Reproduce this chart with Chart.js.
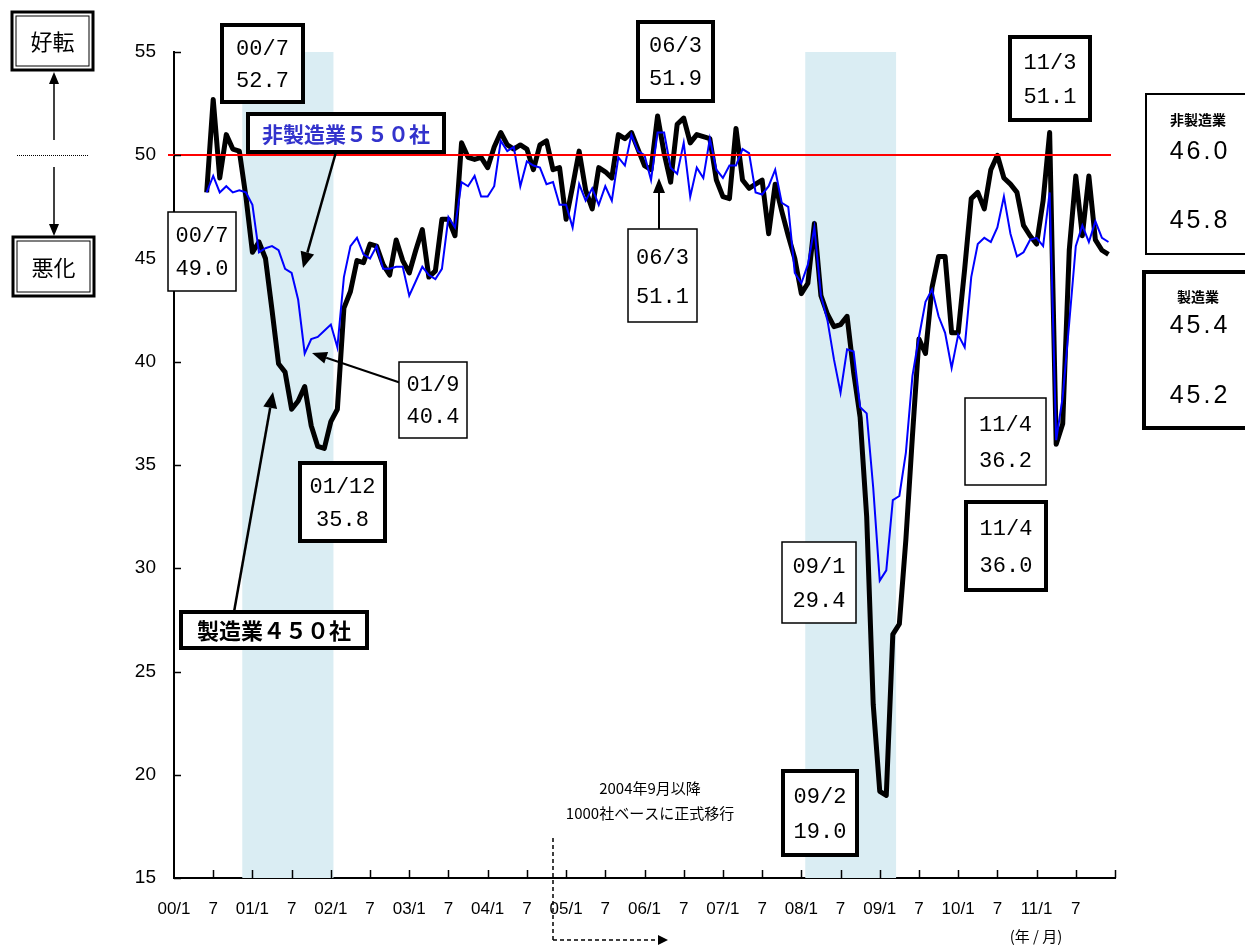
<!DOCTYPE html>
<html>
<head>
<meta charset="utf-8">
<script src="https://cdn.jsdelivr.net/npm/chart.js@4.4.1/dist/chart.umd.min.js"></script>
<style>
  html, body { margin: 0; padding: 0; background: #fff; overflow: hidden; }
  canvas { display: block; }
</style>
</head>
<body>
<canvas id="c" width="1245" height="946"></canvas>
<script>
// Months are counted from 2000/1 (= 0); both series start in 2000/6.
const FIRST_MONTH = 5;

// 製造業 (manufacturing) diffusion index, 2000/6 - 2011/12
const manufacturing = [
  48.2, 52.7, 48.9, 51.0, 50.3, 50.2, 48.0, 45.3, 45.8, 45.0,
  42.5, 39.9, 39.5, 37.7, 38.1, 38.8, 36.9, 35.9, 35.8, 37.1,
  37.7, 42.6, 43.4, 44.9, 44.8, 45.7, 45.6, 44.7, 44.2, 45.9,
  44.9, 44.3, 45.4, 46.4, 44.1, 44.4, 46.9, 46.9, 46.1, 50.6,
  49.9, 49.8, 49.9, 49.4, 50.4, 51.1, 50.5, 50.3, 50.5, 50.3,
  49.3, 50.5, 50.7, 49.3, 49.4, 46.9, 48.5, 50.2, 48.3, 47.4,
  49.4, 49.2, 48.9, 51.0, 50.8, 51.1, 50.3, 49.5, 49.3, 51.9,
  50.1, 48.7, 51.5, 51.8, 50.6, 51.0, 50.9, 50.8, 48.8, 48.0,
  47.9, 51.3, 48.8, 48.4, 48.6, 48.8, 46.2, 48.6, 47.3, 46.1,
  45.0, 43.3, 43.8, 46.7, 43.2, 42.3, 41.7, 41.8, 42.2, 39.5,
  37.3, 32.5, 23.4, 19.2, 19.0, 26.8, 27.3, 31.4, 36.4, 41.1,
  40.4, 43.6, 45.1, 45.1, 41.4, 41.4, 44.5, 47.9, 48.2, 47.4,
  49.3, 50.0, 48.9, 48.6, 48.2, 46.6, 46.1, 45.7, 47.8, 51.1,
  36.0, 37.0, 45.4, 49.0, 46.1, 49.0, 45.9, 45.4, 45.2
];

// 非製造業 (non-manufacturing) diffusion index, 2000/6 - 2011/12
const nonManufacturing = [
  48.2, 49.0, 48.2, 48.5, 48.2, 48.3, 48.2, 47.6, 45.3, 45.5,
  45.6, 45.4, 44.5, 44.3, 43.0, 40.4, 41.1, 41.2, 41.5, 41.8,
  40.7, 44.1, 45.6, 46.0, 45.2, 45.0, 45.6, 44.5, 44.5, 44.6,
  44.6, 43.2, 43.9, 44.6, 44.2, 44.0, 44.5, 47.0, 46.5, 48.7,
  48.5, 49.0, 48.0, 48.0, 48.5, 50.7, 50.2, 50.4, 48.5, 49.7,
  49.5, 49.4, 48.6, 48.7, 47.6, 47.6, 46.5, 48.6, 47.8, 48.4,
  47.6, 48.5, 47.8, 49.9, 49.5, 51.0, 50.2, 50.0, 48.8, 51.1,
  51.1, 49.4, 49.1, 50.6, 48.0, 49.4, 48.9, 50.8, 49.3, 48.9,
  49.5, 49.5, 50.3, 50.1, 48.2, 48.1, 48.5, 49.3, 47.7, 47.5,
  44.3, 43.8, 44.7, 46.5, 43.2, 42.0, 40.1, 38.5, 40.6, 40.5,
  37.8, 37.5, 33.9, 29.4, 29.9, 33.3, 33.5, 35.6, 39.3, 41.2,
  42.9, 43.5, 42.2, 41.4, 39.7, 41.3, 40.7, 44.1, 45.7, 46.0,
  45.8, 46.5, 48.0, 46.2, 45.1, 45.3, 45.9, 46.0, 45.6, 48.2,
  36.2, 38.3, 41.9, 45.6, 46.6, 45.8, 46.8, 46.0, 45.8
];

// x-axis labels, one every six months from 2000/1 to 2012/1
const tickLabels = [
  '00/1', '7', '01/1', '7', '02/1', '7', '03/1', '7', '04/1', '7', '05/1', '7',
  '06/1', '7', '07/1', '7', '08/1', '7', '09/1', '7', '10/1', '7', '11/1', '7', ''
];
const yTicks = [15, 20, 25, 30, 35, 40, 45, 50, 55];

// recession periods (in month index units)
const recessions = [[10.45, 24.4], [96.6, 110.5]];
const THRESHOLD = 50;

const toPoints = arr => arr.map((v, k) => ({ x: FIRST_MONTH + k, y: v }));
const valueAt = (arr, month) => arr[month - FIRST_MONTH];
const fmt = v => v.toFixed(1);

// ---------- drawing helpers ----------
function rectBox(ctx, l, t, r, b, lw) {
  ctx.save();
  ctx.fillStyle = '#fff';
  ctx.fillRect(l, t, r - l, b - t);
  ctx.lineWidth = lw;
  ctx.strokeStyle = '#000';
  ctx.strokeRect(l, t, r - l, b - t);
  ctx.restore();
}
function text(ctx, str, x, y, font, color, align, spacing) {
  ctx.save();
  ctx.font = font;
  ctx.fillStyle = color || '#000';
  ctx.textAlign = align || 'center';
  ctx.textBaseline = 'middle';
  if (spacing) ctx.letterSpacing = spacing;
  ctx.fillText(str, x, y);
  ctx.restore();
}
function arrow(ctx, x1, y1, x2, y2, opts) {
  const o = Object.assign({ lw: 2, head: 13, width: 6, dash: null }, opts || {});
  const ang = Math.atan2(y2 - y1, x2 - x1);
  const bx = x2 - Math.cos(ang) * o.head, by = y2 - Math.sin(ang) * o.head;
  ctx.save();
  ctx.strokeStyle = '#000';
  ctx.fillStyle = '#000';
  ctx.lineWidth = o.lw;
  if (o.dash) ctx.setLineDash(o.dash);
  ctx.beginPath();
  ctx.moveTo(x1, y1);
  ctx.lineTo(bx, by);
  ctx.stroke();
  ctx.setLineDash([]);
  ctx.beginPath();
  ctx.moveTo(x2, y2);
  ctx.lineTo(bx + Math.sin(ang) * o.width, by - Math.cos(ang) * o.width);
  ctx.lineTo(bx - Math.sin(ang) * o.width, by + Math.cos(ang) * o.width);
  ctx.closePath();
  ctx.fill();
  ctx.restore();
}

const NUM_FONT = '22px "Liberation Mono", "DejaVu Sans Mono", monospace';
const JP = '"Noto Sans CJK JP", "Noto Sans CJK SC", sans-serif';

// value call-outs: [series, month, box l, t, r, b, thick]
const callouts = [
  ['m', 6, 222, 25, 303, 102, true],
  ['n', 6, 168, 212, 236, 291, false],
  ['n', 20, 399, 362, 467, 438, false],
  ['m', 23, 300, 463, 385, 541, true],
  ['m', 74, 638, 22, 713, 101, true],
  ['n', 74, 628, 229, 697, 322, false],
  ['m', 134, 1010, 37, 1090, 120, true],
  ['n', 135, 965, 398, 1046, 485, false],
  ['m', 135, 966, 502, 1046, 590, true],
  ['n', 108, 782, 542, 856, 623, false],
  ['m', 109, 783, 771, 857, 855, true]
];
const monthLabel = m => String(Math.floor(m / 12)).padStart(2, '0') + '/' + (m % 12 + 1);

const backdrop = {
  id: 'backdrop',
  beforeDatasetsDraw(chart) {
    const { ctx, chartArea: a, scales: { x } } = chart;
    ctx.save();
    ctx.fillStyle = '#daedf3';
    recessions.forEach(([s, e]) => {
      const l = x.getPixelForValue(s), r = x.getPixelForValue(e);
      ctx.fillRect(l, a.top, r - l, a.bottom - a.top);
    });
    ctx.restore();
  },
  afterDatasetsDraw(chart) {
    const { ctx, chartArea: a, scales: { x, y } } = chart;
    // 50 line
    const y50 = Math.round(y.getPixelForValue(THRESHOLD));
    ctx.save();
    ctx.strokeStyle = '#ff0000';
    ctx.lineWidth = 2;
    ctx.beginPath();
    ctx.moveTo(a.left - 6, y50);
    ctx.lineTo(a.right - 4, y50);
    ctx.stroke();
    // inward tick marks
    ctx.strokeStyle = '#000';
    ctx.lineWidth = 1.5;
    ctx.beginPath();
    for (let m = 6; m <= 144; m += 6) {
      const px = Math.round(x.getPixelForValue(m)) + 0.5;
      ctx.moveTo(px, a.bottom);
      ctx.lineTo(px, a.bottom - 8);
    }
    yTicks.forEach(v => {
      const py = Math.round(y.getPixelForValue(v)) + 0.5;
      ctx.moveTo(a.left, py);
      ctx.lineTo(a.left + 7, py);
    });
    ctx.stroke();
    ctx.restore();
  },
  afterDraw(chart) {
    const { ctx } = chart;

    // 好転 / 悪化 guide on the left
    [[12, 12, 93, 70, '好転'], [13, 237, 94, 296, '悪化']].forEach(([l, t, r, b, s]) => {
      rectBox(ctx, l, t, r, b, 3);
      ctx.save();
      ctx.lineWidth = 1;
      ctx.strokeRect(l + 4, t + 4, r - l - 8, b - t - 8);
      ctx.restore();
      text(ctx, s, (l + r) / 2, (t + b) / 2 + 1, '22px ' + JP, '#000');
    });
    arrow(ctx, 54, 140, 54, 72, { lw: 1.5, head: 12, width: 5 });
    arrow(ctx, 54, 167, 54, 236, { lw: 1.5, head: 12, width: 5 });
    ctx.save();
    ctx.strokeStyle = '#000';
    ctx.lineWidth = 1;
    ctx.setLineDash([1, 1]);
    ctx.beginPath();
    ctx.moveTo(17, 155.5);
    ctx.lineTo(88, 155.5);
    ctx.stroke();
    ctx.restore();

    // series name labels and pointers
    arrow(ctx, 336, 152, 303, 268, { lw: 2.5, head: 16, width: 7 });
    rectBox(ctx, 248, 114, 444, 152, 4);
    text(ctx, '非製造業５５０社', 346, 134, 'bold 21px ' + JP, '#3333cc');

    arrow(ctx, 234, 612, 273, 392, { lw: 2.5, head: 16, width: 7 });
    rectBox(ctx, 181, 612, 367, 648, 4);
    text(ctx, '製造業４５０社', 274, 631, 'bold 22px ' + JP, '#000');

    arrow(ctx, 404, 384, 312, 353, { lw: 2, head: 15, width: 6 });
    arrow(ctx, 659, 229, 659, 178, { lw: 2, head: 15, width: 6 });

    // value call-outs
    callouts.forEach(([s, m, l, t, r, b, thick]) => {
      const arr = s === 'm' ? manufacturing : nonManufacturing;
      rectBox(ctx, l, t, r, b, thick ? 4 : 1.5);
      const cx = (l + r) / 2, h = b - t;
      text(ctx, monthLabel(m), cx, t + h * 0.31, NUM_FONT, '#000');
      text(ctx, fmt(valueAt(arr, m)), cx, t + h * 0.73, NUM_FONT, '#000');
    });

    // latest two readings on the right
    const nLast = nonManufacturing.length;
    rectBox(ctx, 1146, 94, 1252, 254, 2);
    text(ctx, '非製造業', 1198, 120, 'bold 14px ' + JP, '#000');
    text(ctx, fmt(nonManufacturing[nLast - 2]), 1200, 152, '25px "Liberation Sans", sans-serif', '#000', 'center', '3px');
    text(ctx, fmt(nonManufacturing[nLast - 1]), 1200, 221, '25px "Liberation Sans", sans-serif', '#000', 'center', '3px');
    rectBox(ctx, 1144, 272, 1252, 428, 4);
    text(ctx, '製造業', 1198, 297, 'bold 14px ' + JP, '#000');
    text(ctx, fmt(manufacturing[nLast - 2]), 1200, 326, '25px "Liberation Sans", sans-serif', '#000', 'center', '3px');
    text(ctx, fmt(manufacturing[nLast - 1]), 1200, 396, '25px "Liberation Sans", sans-serif', '#000', 'center', '3px');

    // sample change note
    text(ctx, '2004年9月以降', 650, 788, '15px ' + JP, '#000');
    text(ctx, '1000社ベースに正式移行', 650, 813, '15px ' + JP, '#000');
    ctx.save();
    ctx.strokeStyle = '#000';
    ctx.lineWidth = 1.5;
    ctx.setLineDash([4, 3]);
    ctx.beginPath();
    ctx.moveTo(553, 838);
    ctx.lineTo(553, 940);
    ctx.stroke();
    ctx.restore();
    arrow(ctx, 553, 940, 668, 940, { lw: 1.5, head: 10, width: 5, dash: [4, 3] });

    text(ctx, '(年 / 月)', 1036, 936, '15px ' + JP, '#000');
  }
};

new Chart(document.getElementById('c'), {
  type: 'line',
  data: {
    datasets: [
      {
        label: '非製造業',
        data: toPoints(nonManufacturing),
        borderColor: '#0000ff',
        borderWidth: 2,
        pointRadius: 0,
        tension: 0,
        order: 1
      },
      {
        label: '製造業',
        data: toPoints(manufacturing),
        borderColor: '#000000',
        borderWidth: 5,
        pointRadius: 0,
        tension: 0,
        borderJoinStyle: 'round',
        order: 2
      }
    ]
  },
  options: {
    responsive: false,
    animation: false,
    events: [],
    layout: { padding: { top: 52, right: 130, left: 0, bottom: 0 } },
    plugins: { legend: { display: false }, tooltip: { enabled: false } },
    scales: {
      x: {
        type: 'linear',
        min: 0,
        max: 144,
        afterBuildTicks(scale) {
          scale.ticks = tickLabels.map((_, k) => ({ value: k * 6 }));
        },
        afterFit(scale) { scale.height = 68; },
        ticks: {
          autoSkip: false,
          maxRotation: 0,
          padding: 21,
          color: '#000',
          font: { family: '"Liberation Sans", Arial, sans-serif', size: 17 },
          callback: (v, i) => tickLabels[i]
        },
        grid: { drawOnChartArea: false, drawTicks: false },
        border: { display: true, color: '#000', width: 2 }
      },
      y: {
        min: 15,
        max: 55,
        afterBuildTicks(scale) {
          scale.ticks = yTicks.map(v => ({ value: v }));
        },
        afterFit(scale) { scale.width = 174; },
        ticks: {
          padding: 18,
          color: '#000',
          font: { family: '"Liberation Sans", Arial, sans-serif', size: 19 }
        },
        grid: { drawOnChartArea: false, drawTicks: false },
        border: { display: true, color: '#000', width: 2 }
      }
    }
  },
  plugins: [backdrop]
});
</script>
</body>
</html>
